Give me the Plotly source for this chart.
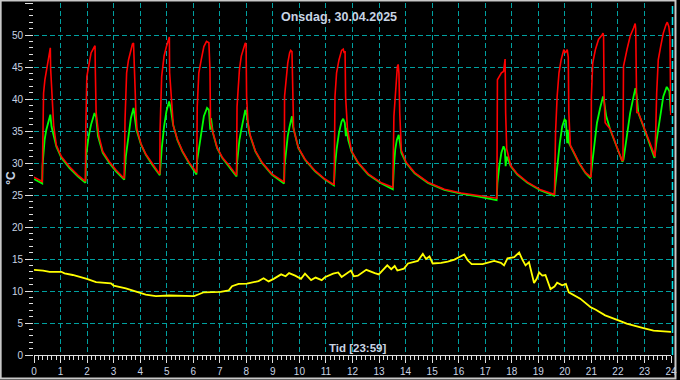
import plotly.graph_objects as go

# ---------------- data ----------------
title_text = "Onsdag, 30.04.2025"
x_label = "Tid [23:59]"
y_label = "°C"
x_ticks = list(range(0, 25))
y_ticks = list(range(0, 56, 5))

red_t = [0.00, 0.31, 0.32, 0.36, 0.41, 0.49, 0.56, 0.615, 0.626, 0.69, 0.74, 0.84, 1.03, 1.34, 1.65, 1.92,
         1.94, 1.95, 1.99, 2.06, 2.15, 2.28, 2.30, 2.31, 2.34, 2.44, 2.59, 2.84, 3.09, 3.37,
         3.40, 3.43, 3.49, 3.56, 3.65, 3.71, 3.75, 3.78, 3.84, 3.88, 4.03, 4.21, 4.46, 4.71,
         4.74, 4.75, 4.81, 4.90, 4.99, 5.06, 5.10, 5.11, 5.19, 5.25, 5.40, 5.59, 5.84, 6.09,
         6.13, 6.15, 6.21, 6.30, 6.40, 6.50, 6.59, 6.63, 6.65, 6.74, 6.90, 7.09, 7.34, 7.59,
         7.63, 7.65, 7.69, 7.74, 7.81, 7.90, 7.96, 7.99, 8.01, 8.06, 8.15, 8.34, 8.59, 8.96, 9.34, 9.40,
         9.43, 9.44, 9.50, 9.56, 9.63, 9.67, 9.72, 9.74, 9.78, 9.96, 10.21, 10.59, 10.96, 11.27,
         11.31, 11.34, 11.40, 11.49, 11.59, 11.65, 11.69, 11.72, 11.74, 11.81, 11.96, 12.21, 12.59, 13.09, 13.50,
         13.52, 13.56, 13.61, 13.65, 13.69, 13.72, 13.75, 13.78, 13.81, 13.84, 14.02, 14.34, 14.84, 15.46, 16.09, 16.71, 17.40,
         17.44, 17.46, 17.56, 17.61, 17.69, 17.75, 17.77, 17.81, 17.96, 18.21, 18.59, 19.09, 19.59,
         19.61, 19.65, 19.71, 19.78, 19.86, 19.96, 20.02, 20.09, 20.13, 20.15, 20.21, 20.34, 20.53, 20.78, 20.96,
         20.99, 21.00, 21.05, 21.15, 21.27, 21.40, 21.44, 21.46, 21.48, 21.52, 21.71, 21.90, 22.09, 22.15,
         22.19, 22.21, 22.34, 22.46, 22.59, 22.65, 22.67, 22.68, 22.71, 22.77, 22.96, 23.15, 23.34, 23.37,
         23.40, 23.46, 23.52, 23.61, 23.71, 23.81, 23.86, 23.92, 23.96, 23.99]
red_v = [27.8, 27.1, 29.5, 40.9, 43.0, 45.1, 47.2, 48.0, 44.8, 38.3, 35.9, 32.8, 31.0, 29.4, 28.1, 27.2,
         27.3, 35.0, 43.5, 45.1, 47.2, 48.2, 48.3, 44.6, 37.9, 34.3, 31.8, 30.2, 28.9, 27.7,
         27.6, 36.8, 44.1, 46.1, 47.7, 48.6, 48.75, 44.1, 37.8, 35.3, 33.0, 31.4, 29.8, 28.4,
         28.3, 35.2, 43.5, 46.7, 48.2, 49.3, 49.7, 44.1, 38.3, 35.8, 33.7, 31.9, 30.1, 28.6,
         28.5, 38.8, 44.1, 46.1, 48.2, 49.0, 48.8, 44.6, 36.4, 34.8, 32.4, 30.9, 29.7, 28.3,
         28.1, 38.8, 42.0, 44.6, 46.7, 48.2, 48.75, 48.6, 40.4, 36.4, 34.3, 31.9, 30.1, 28.3, 27.2, 27.0,
         27.0, 40.4, 43.5, 45.6, 47.2, 47.6, 47.4, 40.9, 35.3, 32.4, 30.6, 28.8, 27.5, 26.7,
         26.7, 40.4, 44.1, 46.1, 47.6, 47.8, 47.2, 47.5, 40.4, 35.3, 31.9, 30.1, 28.3, 26.9, 26.2,
         26.2, 37.3, 40.4, 43.0, 45.1, 45.4, 44.0, 37.8, 34.3, 32.0, 30.1, 28.5, 27.0, 25.9, 25.3, 24.9, 24.5,
         24.5, 43.0, 43.8, 44.1, 44.3, 46.25, 37.8, 32.2, 29.6, 28.3, 27.0, 25.8, 25.1,
         25.1, 34.7, 40.4, 44.1, 46.1, 47.7, 47.2, 47.7, 46.5, 37.8, 32.7, 31.7, 30.1, 28.5, 27.8,
         27.8, 40.4, 45.6, 47.7, 49.3, 50.0, 50.3, 49.8, 40.4, 36.3, 35.3, 33.2, 31.1, 30.4,
         30.4, 45.1, 47.7, 49.8, 51.1, 51.8, 51.0, 45.1, 37.9, 37.9, 35.8, 33.7, 31.4, 31.0,
         31.0, 40.9, 46.1, 48.2, 50.3, 51.6, 52.0, 51.3, 49.8, 37.5]

green_t = [0.00, 0.31, 0.32, 0.40, 0.465, 0.525, 0.615, 0.66, 0.84, 1.03, 1.34, 1.65, 1.90,
           1.94, 1.96, 2.06, 2.15, 2.28, 2.34, 2.41, 2.59, 2.84, 3.09, 3.37,
           3.40, 3.46, 3.56, 3.65, 3.75, 3.81, 3.86, 4.03, 4.21, 4.46, 4.71,
           4.74, 4.81, 4.90, 4.99, 5.09, 5.15, 5.24, 5.40, 5.59, 5.84, 6.09, 6.12,
           6.15, 6.21, 6.30, 6.40, 6.52, 6.59, 6.64, 6.67, 6.74, 6.90, 7.09, 7.34, 7.63,
           7.65, 7.74, 7.81, 7.90, 7.96, 8.02, 8.11, 8.34, 8.59, 8.96, 9.34, 9.42,
           9.44, 9.50, 9.56, 9.63, 9.72, 9.76, 9.96, 10.21, 10.59, 10.96, 11.30,
           11.34, 11.40, 11.49, 11.59, 11.65, 11.71, 11.75, 11.78, 11.84, 11.96, 12.21, 12.59, 13.09, 13.52,
           13.56, 13.61, 13.67, 13.74, 13.79, 13.84, 14.02, 14.34, 14.84, 15.46, 16.09, 16.71, 17.43,
           17.46, 17.53, 17.61, 17.69, 17.74, 17.77, 17.81, 17.96, 18.21, 18.59, 19.09, 19.60,
           19.65, 19.71, 19.81, 19.90, 19.99, 20.04, 20.09, 20.11, 20.16, 20.34, 20.53, 20.78, 20.97,
           21.02, 21.11, 21.21, 21.33, 21.44, 21.48, 21.56, 21.71, 21.90, 22.09, 22.17,
           22.21, 22.34, 22.46, 22.59, 22.66, 22.71, 22.77, 22.96, 23.15, 23.34, 23.38,
           23.46, 23.59, 23.71, 23.84, 23.94, 23.99]
green_v = [27.5, 26.8, 29.5, 33.6, 35.2, 36.25, 37.55, 35.7, 32.6, 30.8, 29.2, 27.9, 27.0,
           26.9, 31.0, 34.2, 36.0, 37.8, 37.2, 34.2, 31.6, 30.0, 28.7, 27.5,
           27.4, 31.0, 34.2, 37.0, 38.6, 37.0, 35.2, 32.9, 31.3, 29.7, 28.2,
           28.1, 32.1, 35.7, 38.1, 39.6, 38.6, 36.0, 33.6, 31.8, 30.0, 28.4, 28.2,
           30.5, 32.1, 35.2, 37.3, 38.6, 38.3, 35.2, 37.0, 34.7, 32.3, 30.8, 29.5, 27.9,
           30.0, 33.6, 35.2, 37.3, 38.3, 37.3, 34.7, 31.8, 30.0, 28.2, 27.1, 26.8,
           29.5, 32.1, 34.2, 35.7, 37.3, 35.7, 32.3, 30.5, 28.7, 27.4, 26.5,
           29.5, 32.1, 34.7, 36.5, 36.9, 36.25, 34.2, 35.5, 33.6, 31.8, 30.0, 28.2, 26.8, 25.9,
           29.5, 32.1, 33.6, 34.4, 33.1, 31.6, 30.0, 28.4, 26.9, 25.8, 25.2, 24.8, 24.2,
           26.9, 29.5, 31.6, 32.6, 32.1, 29.5, 31.0, 29.5, 28.2, 26.9, 25.7, 24.9,
           26.9, 30.0, 33.1, 35.7, 36.8, 36.6, 33.1, 35.2, 33.1, 31.6, 30.0, 28.4, 27.6,
           29.5, 33.1, 36.25, 38.6, 40.4, 39.6, 37.3, 35.2, 33.1, 31.0, 30.2,
           30.5, 34.2, 37.8, 40.4, 41.7, 40.4, 37.8, 35.7, 33.6, 31.3, 30.8,
           33.6, 37.3, 40.4, 41.9, 41.2, 38.1]

yellow_t = [0.00, 0.34, 0.59, 1.03, 1.15, 1.46, 1.99, 2.34, 2.90, 3.00, 3.46, 3.96, 4.21, 4.59, 5.09,
            6.03, 6.40, 7.03, 7.34, 7.46, 7.71, 8.02, 8.46, 8.65, 8.84, 9.03, 9.31, 9.48, 9.61, 9.84,
            10.06, 10.21, 10.44, 10.61, 10.84, 10.96, 11.27, 11.46, 11.59, 11.94, 12.05, 12.20, 12.40,
            12.52, 12.84, 12.99, 13.31, 13.46, 13.59, 13.69, 13.94, 14.09, 14.46, 14.65, 14.77, 14.90,
            15.02, 15.34, 15.59, 15.84, 16.21, 16.34, 16.49, 16.90, 17.34, 17.59, 17.71, 17.84, 18.09,
            18.28, 18.40, 18.52, 18.65, 18.71, 18.84, 18.94, 19.03, 19.15, 19.27, 19.46, 19.61, 19.71,
            19.90, 20.04, 20.15, 20.58, 20.96, 21.15, 21.52, 22.02, 22.33, 22.96, 23.34, 24.00]
yellow_v = [13.3, 13.2, 13.0, 13.0, 12.75, 12.5, 11.9, 11.4, 11.2, 10.85, 10.4, 9.8, 9.45, 9.2, 9.3,
            9.2, 9.8, 9.85, 10.1, 10.75, 11.1, 11.15, 11.55, 12.0, 11.5, 11.9, 12.6, 12.3, 12.8, 12.4,
            11.9, 12.7, 11.7, 12.1, 11.7, 12.15, 12.7, 12.9, 12.2, 13.2, 12.3, 12.4, 12.9,
            13.3, 12.8, 12.6, 14.0, 13.4, 13.9, 13.2, 13.5, 14.3, 14.7, 15.8, 15.0, 15.4,
            14.3, 14.4, 14.6, 14.9, 15.7, 14.8, 14.2, 14.2, 14.7, 14.4, 14.0, 15.1, 15.3,
            16.0, 14.9, 14.0, 14.5, 13.3, 11.25, 11.9, 12.9, 12.4, 12.5, 10.3, 10.7, 11.3,
            10.9, 11.1, 9.8, 8.8, 7.5, 7.1, 6.2, 5.4, 4.9, 4.2, 3.8, 3.6]

# ---------------- figure ----------------
W, H = 680, 380
ML, MR, MT, MB = 34, 6, 3, 25
PW, PH = W - ML - MR, H - MT - MB

def px_to_paper_x(px):
    return (px - ML) / PW

def px_to_paper_y(py):
    return (H - MB - py) / PH

text_color = "#c8d4e4"
grid_color = "#00a0a0"
font_family = "Liberation Sans, Arial, sans-serif"

fig = go.Figure()
fig.add_trace(go.Scatter(x=yellow_t, y=yellow_v, mode="lines",
                         line=dict(color="#ffff00", width=1.8), hoverinfo="skip"))
fig.add_trace(go.Scatter(x=green_t, y=green_v, mode="lines",
                         line=dict(color="#00ff00", width=1.8), hoverinfo="skip"))
fig.add_trace(go.Scatter(x=red_t, y=red_v, mode="lines",
                         line=dict(color="#ff0000", width=1.6), hoverinfo="skip"))

fig.update_layout(
    width=W, height=H,
    margin=dict(l=ML, r=MR, t=MT, b=MB, pad=0),
    paper_bgcolor="#000000", plot_bgcolor="#000000",
    showlegend=False,
    font=dict(family=font_family, size=10, color=text_color),
    xaxis=dict(
        range=[0, 24], tickmode="array", tickvals=x_ticks, ticktext=[str(v) for v in x_ticks],
        ticks="outside", ticklen=7, tickwidth=1, tickcolor="#e0e0e0",
        showline=True, linecolor="#e0e0e0", linewidth=1,
        showgrid=True, gridcolor=grid_color, griddash="5px,3px", gridwidth=1,
        zeroline=False,
        tickfont=dict(family=font_family, size=10, color=text_color),
        minor=dict(tick0=0, dtick=1/6, ticks="outside", ticklen=4, tickcolor="#e0e0e0", showgrid=False),
    ),
    yaxis=dict(
        range=[0, 55], tickmode="array", tickvals=y_ticks, ticktext=[str(v) for v in y_ticks],
        ticks="outside", ticklen=8, tickwidth=1, tickcolor="#e0e0e0",
        showline=False,
        showgrid=True, gridcolor=grid_color, griddash="5px,3px", gridwidth=1,
        zeroline=False,
        tickfont=dict(family=font_family, size=10, color=text_color),
        minor=dict(tick0=0, dtick=1, ticks="outside", ticklen=4, tickcolor="#e0e0e0", showgrid=False),
    ),
    shapes=[
        dict(type="line", xref="paper", yref="paper",
             x0=px_to_paper_x(675.5), x1=px_to_paper_x(675.5), y0=0, y1=1,
             line=dict(color="#00e5ee", width=1.5, dash="8px,3px")),
        dict(type="rect", xref="paper", yref="paper", layer="above",
             x0=px_to_paper_x(0.5), x1=px_to_paper_x(678.5),
             y0=px_to_paper_y(378.5), y1=px_to_paper_y(0.5),
             line=dict(color="#c8c8c8", width=2), fillcolor="rgba(0,0,0,0)"),
    ],
    annotations=[
        dict(text=title_text, xref="paper", yref="paper",
             x=px_to_paper_x(340.5), y=px_to_paper_y(16.7), xanchor="center", yanchor="middle",
             showarrow=False, font=dict(family=font_family, size=12.5, color=text_color, weight="bold")),
        dict(text=x_label, xref="paper", yref="paper",
             x=px_to_paper_x(359), y=px_to_paper_y(348.3), xanchor="center", yanchor="middle",
             showarrow=False, font=dict(family=font_family, size=11.5, color=text_color, weight="bold")),
        dict(text=y_label, xref="paper", yref="paper", textangle=-90,
             x=px_to_paper_x(10.7), y=px_to_paper_y(178), xanchor="center", yanchor="middle",
             showarrow=False, font=dict(family=font_family, size=12, color=text_color, weight="bold")),
    ],
)

fig.write_html(
    "out.html",
    config={"displayModeBar": False},
    post_script="document.body.style.margin='0';document.body.style.padding='0';"
                "document.body.style.background='#000';",
)
